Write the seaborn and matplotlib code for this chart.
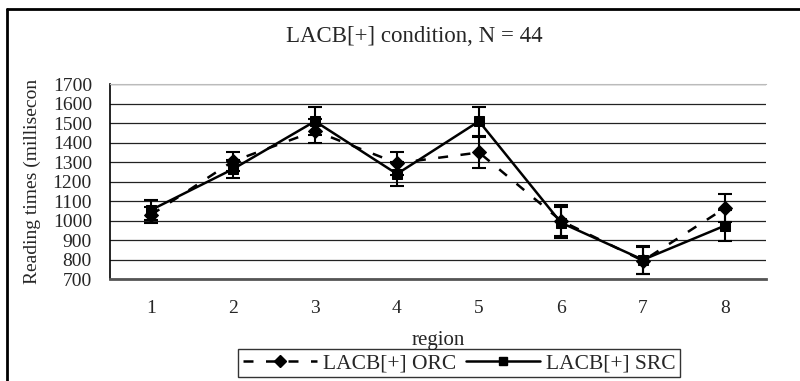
import numpy as np
import pandas as pd
import matplotlib.pyplot as plt
import matplotlib.lines as mlines
import seaborn as sns

# values
regions = [1, 2, 3, 4, 5, 6, 7, 8]
orc_mean = [1030, 1305, 1460, 1295, 1350, 1000, 795, 1065]
orc_err = [40, 48, 60, 58, 80, 80, 70, 72]
src_mean = [1055, 1265, 1510, 1240, 1510, 990, 800, 975]
src_err = [50, 48, 72, 62, 73, 80, 72, 78]
series_names = ['LACB[+] ORC', 'LACB[+] SRC']

df = pd.DataFrame({
    'region': regions * 2,
    'rt': orc_mean + src_mean,
    'err': orc_err + src_err,
    'cond': [series_names[0]] * 8 + [series_names[1]] * 8,
})

sns.set_style('white')
plt.rcParams['font.family'] = ['Liberation Serif', 'DejaVu Serif']

fig = plt.figure(figsize=(8, 3.81), dpi=100)
ax = fig.add_axes([0.1375, 0.267, 0.82, 0.512])

sns.lineplot(data=df, x='region', y='rt', hue='cond', style='cond',
             palette=['black', 'black'], markers=['D', 's'],
             dashes=[(4, 5), ''], linewidth=1.8, markersize=7,
             markeredgecolor='black', ax=ax, legend=False)

for name, mean, err in [(series_names[0], orc_mean, orc_err),
                        (series_names[1], src_mean, src_err)]:
    ax.errorbar(regions, mean, yerr=err, fmt='none', ecolor='black',
                elinewidth=1.5, capsize=5, capthick=1.5, zorder=1)

ax.set_xlim(0.5, 8.5)
ax.set_ylim(700, 1700)
ax.set_yticks(np.arange(700, 1701, 100))
ax.set_xticks(regions)
ax.set_xticks(np.arange(1.5, 8.5, 1), minor=True)
ax.tick_params(axis='x', which='major', length=0, labelsize=14, pad=15)
ax.tick_params(axis='x', which='minor', length=5, direction='in', width=1)
ax.tick_params(axis='y', length=0, labelsize=14, pad=13)
ax.yaxis.grid(True, color='#222222', linewidth=0.9)
ax.set_axisbelow(True)
ax.spines['right'].set_visible(False)
ax.spines['top'].set_color('#bbbbbb')
ax.spines['left'].set_color('black')
ax.spines['bottom'].set_color('#555555')
ax.spines['bottom'].set_linewidth(2)
ax.spines['left'].set_linewidth(1.2)

ax.set_xlabel('region', fontsize=15, labelpad=10)
ax.set_ylabel('Reading times (millisecon', fontsize=14)
ax.yaxis.set_label_coords(-0.105, 0.5)
fig.text(0.5175, 0.905, 'LACB[+] condition, N = 44', ha='center', va='center', fontsize=16.5)

h1 = mlines.Line2D([], [], color='black', linestyle=(0, (4, 5)), marker='D',
                   markersize=6, linewidth=1.8)
h2 = mlines.Line2D([], [], color='black', linestyle='-', marker='s',
                   markersize=6, linewidth=1.8)
leg = fig.legend([h1, h2], series_names, loc='center', bbox_to_anchor=(0.574, 0.047),
                 ncol=2, fontsize=15.5, frameon=True, fancybox=False,
                 handlelength=3.45, columnspacing=0.45, handletextpad=0.28,
                 borderpad=0.2, borderaxespad=0)
leg.get_frame().set_edgecolor('black')
leg.get_frame().set_linewidth(1)

# outer chart frame (left and top edges visible)
fig.add_artist(mlines.Line2D([0.009, 0.009], [0, 0.977], color='black', linewidth=2,
                             transform=fig.transFigure))
fig.add_artist(mlines.Line2D([0.009, 1], [0.977, 0.977], color='black', linewidth=2,
                             transform=fig.transFigure))

fig.savefig('out.png', dpi=100)
